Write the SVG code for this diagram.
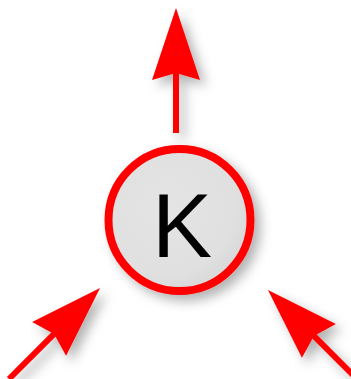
<svg xmlns="http://www.w3.org/2000/svg" width="351" height="379" viewBox="0 0 351 379">
  <style>
    .conn { stroke: #ff0000; stroke-width: 6; fill: none; marker-end: url(#head); }
    .label { font-family: "Liberation Sans", Arial, sans-serif; font-size: 90px; fill: #000; text-anchor: middle; }
  </style>
  <defs>
    <filter id="shadow" x="-50%" y="-50%" width="200%" height="200%">
      <feDropShadow dx="6" dy="6" stdDeviation="6" flood-color="#000" flood-opacity="0.3"/>
    </filter>
    <radialGradient id="fillg" cx="0.4" cy="0.4" r="0.7">
      <stop offset="0" stop-color="#e4e4e4"/>
      <stop offset="0.7" stop-color="#e0e0e0"/>
      <stop offset="1" stop-color="#d4d4d4"/>
    </radialGradient>
    <marker id="head" markerUnits="userSpaceOnUse" orient="auto" viewBox="-15 -26 80 52" refX="0" refY="0" markerWidth="80" markerHeight="52">
      <path d="M60,0 L-12,-24 L-5,0 L-12,24 Z" fill="#ff0000"/>
    </marker>
  </defs>
  <g id="connectors" filter="url(#shadow)">
    <path class="conn" d="M176,133 L176,68"/>
    <path class="conn" d="M9,379 L57.6,330.4"/>
    <path class="conn" d="M357,379 L310.4,332.4"/>
  </g>
  <g id="node-K">
    <circle cx="179.5" cy="220" r="71" fill="url(#fillg)" stroke="#ff0000" stroke-width="8" filter="url(#shadow)"/>
    <text class="label" x="182" y="257">K</text>
  </g>
</svg>
